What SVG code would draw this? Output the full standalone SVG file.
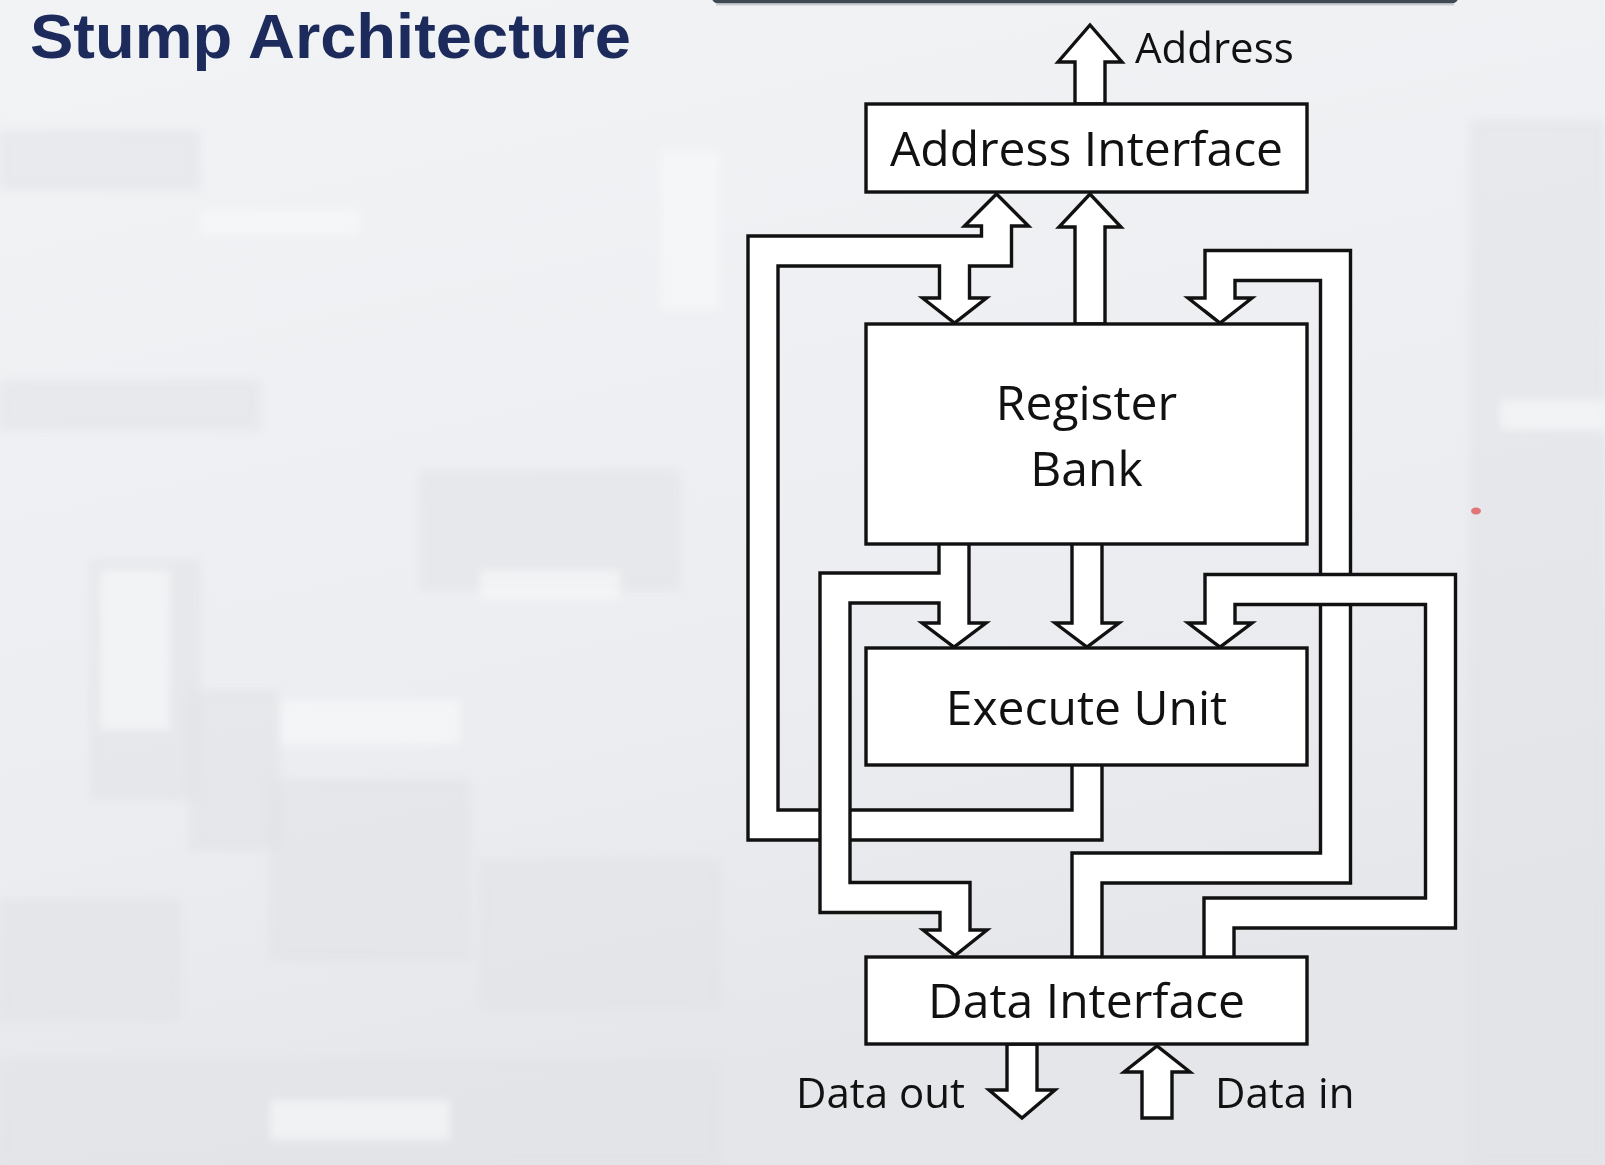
<svg xmlns="http://www.w3.org/2000/svg" width="1605" height="1165" viewBox="0 0 1605 1165">
  <defs>
    <linearGradient id="bg" x1="0" y1="0" x2="0.3" y2="1">
      <stop offset="0" stop-color="#f2f3f5"/>
      <stop offset="0.6" stop-color="#eceef1"/>
      <stop offset="1" stop-color="#e4e6e9"/>
    </linearGradient>
    <filter id="soft" x="-5%" y="-5%" width="110%" height="110%">
      <feGaussianBlur stdDeviation="5"/>
    </filter>
    <style>
      .bk{fill:none;stroke:#111;stroke-width:33.4;stroke-linejoin:miter;stroke-linecap:butt}
      .wh{fill:none;stroke:#fff;stroke-width:26.6;stroke-linejoin:miter;stroke-linecap:butt}
      .hd{fill:#fff;stroke:#111;stroke-width:3.4;stroke-linejoin:miter}
      .box{fill:#fff;stroke:#111;stroke-width:3.4}
      .lbl{font-family:"Open Sans","Liberation Sans",sans-serif;font-size:48px;fill:#111;text-anchor:middle}
      .ext{font-family:"Open Sans","Liberation Sans",sans-serif;font-size:42px;fill:#111}
      .ph{fill:#dfe2e6;opacity:0.5}
      .pl{fill:#f7f8f9;opacity:0.7}
    </style>
  </defs>

  <!-- background (faded photo) -->
  <rect x="0" y="0" width="1605" height="1165" fill="url(#bg)"/>
  <g id="photo" filter="url(#soft)">
    <rect class="ph" x="0" y="130" width="200" height="60"/>
    <rect class="ph" x="0" y="380" width="260" height="50"/>
    <rect class="ph" x="90" y="560" width="110" height="240"/>
    <rect class="ph" x="190" y="690" width="90" height="160"/>
    <rect class="ph" x="0" y="900" width="180" height="120"/>
    <rect class="ph" x="270" y="780" width="200" height="180"/>
    <rect class="ph" x="480" y="860" width="240" height="150"/>
    <rect class="ph" x="0" y="1060" width="720" height="105"/>
    <rect class="ph" x="420" y="470" width="260" height="120"/>
    <rect class="ph" x="1470" y="120" width="135" height="1045"/>
    <rect class="pl" x="200" y="210" width="160" height="25"/>
    <rect class="pl" x="280" y="700" width="180" height="45"/>
    <rect class="pl" x="480" y="570" width="140" height="30"/>
    <rect class="pl" x="100" y="570" width="70" height="160"/>
    <rect class="pl" x="660" y="150" width="60" height="160"/>
    <rect class="pl" x="270" y="1100" width="180" height="40"/>
    <rect class="pl" x="1500" y="400" width="105" height="30"/>
  </g>

  <!-- top frame edge -->
  <rect x="712" y="-20" width="746" height="23.5" rx="6" fill="#3e4954"/>
  <rect x="716" y="3.5" width="738" height="2" fill="#c9cdd2"/>

  <!-- title -->
  <text x="30" y="58" font-family="'Liberation Sans',Arial,sans-serif" font-weight="bold" font-size="63" fill="#1c2a5c" textLength="601" lengthAdjust="spacingAndGlyphs">Stump Architecture</text>

  <!-- laser pointer dot -->
  <ellipse cx="1476" cy="511" rx="5" ry="3.5" fill="#e06060" opacity="0.85"/>

  <g id="connectors">
    <!-- left loop: Execute Unit -> Address Interface and Register Bank -->
    <g id="bus-eu-loop">
      <path class="bk" d="M1087 765 V825 H763 V251 H996.5 V226"/>
      <path class="bk" d="M954.5 251 V298"/>
      <polygon class="hd" points="964.5,226 996.5,194 1028.5,226"/>
      <polygon class="hd" points="922.5,298 954.5,323 986.5,298"/>
      <path class="wh" d="M1087 765 V825 H763 V251 H996.5 V223"/>
      <path class="wh" d="M954.5 251 V301"/>
    </g>
    <!-- Register Bank -> Execute Unit (left) and -> Data Interface -->
    <g id="bus-rb-out">
      <path class="bk" d="M954 544 V623"/>
      <path class="bk" d="M954 588 H835 V897.5 H955 V930"/>
      <polygon class="hd" points="922,623 954,647 986,623"/>
      <polygon class="hd" points="923,930 955,955.5 987,930"/>
      <path class="wh" d="M954 544 V626"/>
      <path class="wh" d="M954 588 H835 V897.5 H955 V933"/>
    </g>
    <!-- Register Bank -> Execute Unit (middle) -->
    <g id="bus-rb-eu">
      <path class="bk" d="M1087 544 V623"/>
      <polygon class="hd" points="1055,623 1087,647 1119,623"/>
      <path class="wh" d="M1087 544 V626"/>
    </g>
    <!-- Data Interface -> Register Bank -->
    <g id="bus-di-rb">
      <path class="bk" d="M1087 957 V868 H1335.5 V265.5 H1220 V298"/>
      <polygon class="hd" points="1188,298 1220,323 1252,298"/>
      <path class="wh" d="M1087 957 V868 H1335.5 V265.5 H1220 V301"/>
    </g>
    <!-- Data Interface -> Execute Unit -->
    <g id="bus-di-eu">
      <path class="bk" d="M1219 957 V913 H1440.5 V589.5 H1220 V623"/>
      <polygon class="hd" points="1188,623 1220,647 1252,623"/>
      <path class="wh" d="M1219 957 V913 H1440.5 V589.5 H1220 V626"/>
    </g>
    <!-- Register Bank -> Address Interface -->
    <polygon id="bus-rb-ai" class="hd" points="1075,324 1075,227 1059,227 1090,194 1121,227 1105,227 1105,324"/>
    <!-- Address out -->
    <polygon id="bus-addr" class="hd" points="1075,104 1075,62 1058,62 1090,25 1122,62 1105,62 1105,104"/>
    <!-- Data out -->
    <polygon id="bus-dout" class="hd" points="1007,1044 1007,1090 989,1090 1022,1118 1055,1090 1037,1090 1037,1044"/>
    <!-- Data in -->
    <polygon id="bus-din" class="hd" points="1142,1118 1142,1072 1124,1072 1157,1046 1190,1072 1172,1072 1172,1118"/>
  </g>

  <g id="address-interface">
    <rect class="box" x="866" y="104" width="441" height="88"/>
    <text class="lbl" x="1086.5" y="166">Address Interface</text>
  </g>
  <g id="register-bank">
    <rect class="box" x="866" y="324" width="441" height="220"/>
    <text class="lbl" x="1086.5" y="420">Register</text>
    <text class="lbl" x="1086.5" y="486">Bank</text>
  </g>
  <g id="execute-unit">
    <rect class="box" x="866" y="648" width="441" height="117"/>
    <text class="lbl" x="1086.5" y="725">Execute Unit</text>
  </g>
  <g id="data-interface">
    <rect class="box" x="866" y="957" width="441" height="87"/>
    <text class="lbl" x="1086.5" y="1018">Data Interface</text>
  </g>

  <g id="io-labels">
    <text class="ext" x="1135" y="63">Address</text>
    <text class="ext" x="965" y="1108" text-anchor="end">Data out</text>
    <text class="ext" x="1215" y="1108">Data in</text>
  </g>
</svg>
